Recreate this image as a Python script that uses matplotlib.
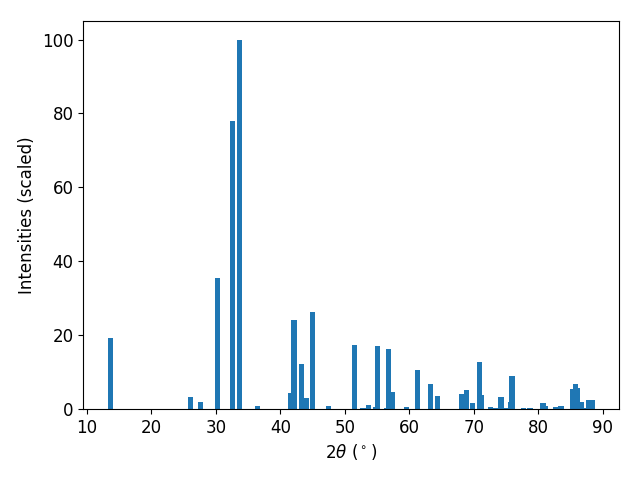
import numpy as np
import matplotlib.pyplot as plt

plt.rcParams['font.size'] = 12

# peak positions (2theta, degrees) and scaled intensities
two_theta = [13.6, 26.0, 27.6, 30.3, 32.6, 33.6, 36.5,
             41.6, 42.1, 43.3, 44.0, 45.0, 47.4,
             51.5, 52.8, 53.6, 54.8, 55.0, 56.4, 56.8, 57.3,
             59.6, 61.2, 63.3, 64.4,
             68.1, 68.8, 69.8, 70.9, 71.2, 72.6, 73.4, 74.2, 75.0, 75.7, 75.9,
             77.7, 78.7, 80.7, 81.1, 82.6, 83.5,
             85.3, 85.8, 86.1, 86.6, 87.5, 87.8, 88.3]
intensity = [19.2, 3.2, 1.9, 35.4, 78.0, 100.0, 0.8,
             4.3, 24.1, 12.2, 3.0, 26.3, 0.8,
             17.3, 0.3, 1.1, 0.5, 17.1, 0.3, 16.3, 4.6,
             0.5, 10.6, 6.8, 3.5,
             4.1, 5.1, 1.6, 12.7, 3.8, 0.5, 0.3, 3.2, 0.3, 1.9, 8.9,
             0.3, 0.3, 1.6, 0.8, 0.5, 0.8,
             5.4, 6.8, 5.7, 1.9, 0.3, 2.4, 2.4]

fig, ax = plt.subplots(figsize=(6.4, 4.8), dpi=100)
ax.bar(two_theta, intensity)
ax.set_xlabel(r'$2\theta$ ($^\circ$)')
ax.set_ylabel('Intensities (scaled)')
plt.subplots_adjust(left=0.13, right=0.967, top=0.956, bottom=0.148)
plt.savefig("out.png")
